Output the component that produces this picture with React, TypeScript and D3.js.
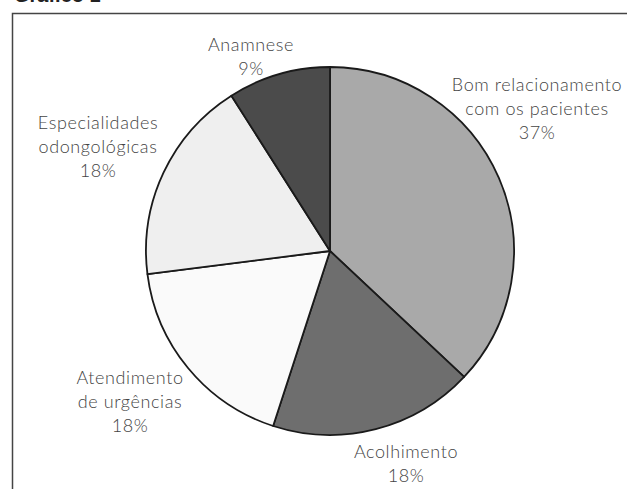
import * as d3 from 'd3'

const categories = [
  'Bom relacionamento com os pacientes',
  'Acolhimento',
  'Atendimento de urgências',
  'Especialidades odongológicas',
  'Anamnese',
]
const values = [37, 18, 18, 18, 9]
const fills = ['#a9a9a9', '#6e6e6e', '#fafafa', '#efefef', '#4b4b4b']
// label lines per slice (text split as in the original)
const labelLines = [
  ['Bom relacionamento', 'com os pacientes', '37%'],
  ['Acolhimento', '18%'],
  ['Atendimento', 'de urgências', '18%'],
  ['Especialidades', 'odongológicas', '18%'],
  ['Anamnese', '9%'],
]
// where each label block sits (centre x, first baseline y)
const labelPos: [number, number][] = [
  [537, 91],
  [406, 458],
  [130, 384],
  [98, 129],
  [251, 51],
]

const W = 627
const H = 489
const cx = 330
const cy = 251
const r = 184

export default function App() {
  const pie = d3.pie<number>().sort(null).value(d => d)
  const arcs = pie(values)
  const arc = d3.arc<d3.PieArcDatum<number>>().innerRadius(0).outerRadius(r)

  return (
    <svg width={W} height={H} style={{ position: 'absolute', left: 0, top: 0, background: '#fff' }}>
      <text x={14} y={2} fontFamily="Liberation Sans, Arial, sans-serif" fontWeight="bold" fontSize={20} fill="#222">
        Gráfico 1
      </text>
      <path d={`M12.5,${H} L12.5,13.5 L${W},13.5`} fill="none" stroke="#444" strokeWidth={1.5} />
      <g transform={`translate(${cx},${cy})`}>
        {arcs.map((a, i) => (
          <path key={categories[i]} d={arc(a) ?? ''} fill={fills[i]} stroke="#1a1a1a" strokeWidth={1.8} strokeLinejoin="round" />
        ))}
      </g>
      {labelLines.map((lines, i) => (
        <text
          key={categories[i]}
          x={labelPos[i][0]}
          y={labelPos[i][1]}
          textAnchor="middle"
          fontFamily="Lato, 'Noto Sans', sans-serif"
          fontWeight={300}
          fontSize={18}
          letterSpacing={0.6}
          fill="#444"
        >
          {lines.map((l, j) => (
            <tspan key={j} x={labelPos[i][0]} dy={j === 0 ? 0 : 24}>{l}</tspan>
          ))}
        </text>
      ))}
    </svg>
  )
}
